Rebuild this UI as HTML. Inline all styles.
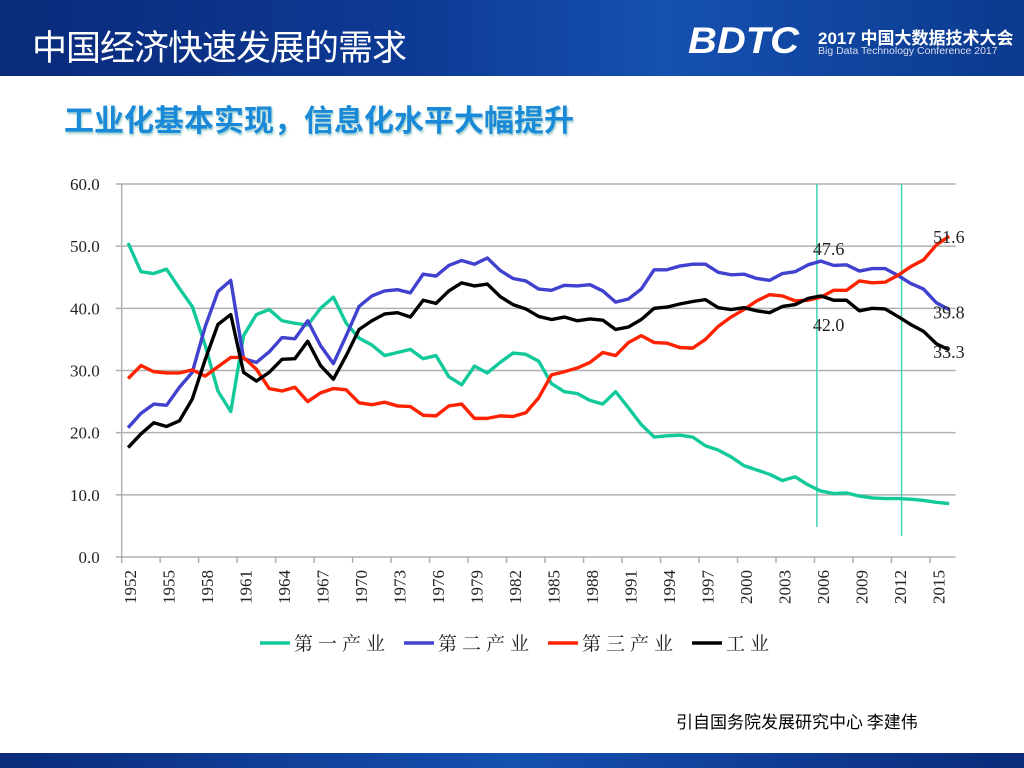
<!DOCTYPE html>
<html><head><meta charset="utf-8">
<style>
body{margin:0;width:1024px;height:768px;overflow:hidden;background:#fff;font-family:"Liberation Sans","Noto Sans CJK SC",sans-serif;position:relative}
#hdr{position:absolute;left:0;top:0;width:1024px;height:76px;background:linear-gradient(90deg,#0a2a7a 0%,#0d3a94 40%,#1550b0 65%,#0b3a8e 100%)}
#title{position:absolute;left:32px;top:20px;color:#fff;font-size:35px;font-family:"Noto Sans CJK SC",sans-serif;letter-spacing:-1px}
#logo{position:absolute;left:688px;top:20px;color:#fff;font-size:37px;font-weight:bold;font-style:italic;font-family:"Liberation Sans",sans-serif;transform:scaleX(1.08);transform-origin:left;white-space:nowrap}
#logo2{position:absolute;left:818px;top:24px;color:#fff;font-size:17px;font-weight:bold;font-family:"Liberation Sans","Noto Sans CJK SC",sans-serif;white-space:nowrap}
#logo3{position:absolute;left:818px;top:45px;color:#dde;font-size:10.5px;font-family:"Liberation Sans",sans-serif;white-space:nowrap}
#sub{position:absolute;left:64px;top:96px;color:#1a8ad8;font-size:30px;font-weight:bold;font-family:"Noto Sans CJK SC",sans-serif;text-shadow:1px 2px 2px #9cc}
#foot{position:absolute;left:676px;top:708px;font-size:17px;color:#000;font-family:"Noto Sans CJK SC",sans-serif}
#bot{position:absolute;left:0;top:753px;width:1024px;height:15px;background:linear-gradient(90deg,#0a2a7a,#1550b0,#0a2a7a)}
svg{position:absolute;left:0;top:0}
</style></head><body>
<div id="hdr"></div>
<div id="title">中国经济快速发展的需求</div>
<div id="logo">BDTC</div>
<div id="logo2">2017 中国大数据技术大会</div>
<div id="logo3">Big Data Technology Conference 2017</div>
<div id="sub">工业化基本实现，信息化水平大幅提升</div>
<svg id="chart" width="1024" height="768"></svg>
<div id="foot">引自国务院发展研究中心  李建伟</div>
<div id="bot"></div>
<script>
const startYear = 1952;
const primary = [50.5,45.9,45.6,46.3,43.2,40.3,34.1,26.7,23.4,35.6,39.0,39.8,38.0,37.6,37.3,40.0,41.8,37.6,35.2,34.1,32.4,32.9,33.4,31.9,32.4,29.0,27.7,30.7,29.6,31.3,32.8,32.6,31.5,27.9,26.6,26.3,25.2,24.6,26.6,24.0,21.3,19.3,19.5,19.6,19.3,17.9,17.2,16.1,14.7,14.0,13.3,12.3,12.9,11.6,10.6,10.2,10.3,9.8,9.5,9.4,9.4,9.3,9.1,8.8,8.6];
const secondary = [20.8,23.1,24.6,24.4,27.3,29.7,37.0,42.7,44.5,31.9,31.3,33.0,35.3,35.1,38.0,34.0,31.1,35.6,40.3,42.0,42.8,43.0,42.5,45.5,45.2,46.9,47.7,47.1,48.1,46.1,44.8,44.4,43.1,42.9,43.7,43.6,43.8,42.8,41.0,41.5,43.1,46.2,46.2,46.8,47.1,47.1,45.8,45.4,45.5,44.8,44.5,45.6,45.9,47.0,47.6,46.9,47.0,46.0,46.4,46.4,45.3,44.0,43.1,40.9,39.8];
const tertiary = [28.7,30.8,29.8,29.6,29.6,30.1,29.1,30.6,32.1,32.1,30.2,27.1,26.7,27.3,25.0,26.4,27.1,26.9,24.8,24.5,24.9,24.3,24.2,22.8,22.7,24.3,24.6,22.3,22.3,22.7,22.6,23.2,25.6,29.3,29.8,30.4,31.3,32.9,32.4,34.5,35.6,34.5,34.4,33.7,33.6,35.0,37.1,38.6,39.8,41.2,42.2,42.0,41.2,41.3,41.8,42.9,42.9,44.4,44.1,44.2,45.3,46.7,47.8,50.2,51.6];
const industry = [17.6,19.8,21.6,21.0,21.9,25.4,31.7,37.4,39.0,29.7,28.3,29.7,31.8,31.9,34.7,30.8,28.6,32.4,36.6,38.0,39.1,39.3,38.6,41.3,40.8,42.8,44.1,43.6,43.9,41.9,40.6,39.9,38.7,38.2,38.6,38.0,38.3,38.1,36.6,37.0,38.2,40.0,40.2,40.7,41.1,41.4,40.1,39.8,40.1,39.6,39.3,40.3,40.6,41.6,42.0,41.3,41.3,39.6,40.0,39.9,38.7,37.4,36.3,34.3,33.3];
const yTicks = [0,10,20,30,40,50,60];
const seriesNames = ["第一产业","第二产业","第三产业","工业"];
const seriesColors = ["#12c99b","#4141d0","#ff2200","#000000"];
const markerYears = [2006, 2012.6];
const callouts = [["47.6",2006,47.6,-8,-6],["42.0",2006,42.0,-8,35],["51.6",2016,51.6,-16,7],["39.8",2016,39.8,-16,9],["33.3",2016,33.3,-16,8]];

const NS="http://www.w3.org/2000/svg";
const svg=document.getElementById('chart');
const L=121.7,R=955.6,T=184,B=557,N=primary.length,step=(R-L)/N;
const x=i=>L+(i+0.5)*step;
const xy=yr=>x(yr-startYear);
const y=v=>B-(v/60)*(B-T);
function mk(t,a){const e=document.createElementNS(NS,t);for(const k in a)e.setAttribute(k,a[k]);svg.appendChild(e);return e;}
yTicks.forEach(v=>{
  const g=mk('line',{x1:L-6,x2:R,y1:y(v),y2:y(v),stroke:'#b0b0b0','stroke-width':1.5});
  
  
  const t=mk('text',{x:L-22,y:y(v)+6,'text-anchor':'end','font-size':17,'font-family':'Liberation Serif, serif',fill:'#222'});
  t.textContent=v.toFixed(1);
  
  
});
const ax=mk('line',{x1:L,x2:L,y1:T,y2:B,stroke:'#b0b0b0','stroke-width':1.5});


for(let i=0;i<N;i+=3){
  const tk=mk('line',{x1:L+i*step,x2:L+i*step,y1:B,y2:B+6,stroke:'#b0b0b0','stroke-width':1.5});
  
  
  const cx=x(i)+8;
  const t=mk('text',{x:cx,y:570,transform:`rotate(-90 ${cx} 570)`,'text-anchor':'end','font-size':17,'font-family':'Liberation Serif, serif',fill:'#222'});
  t.textContent=startYear+i;
  
  
}
markerYears.forEach((yr,k)=>{
  const m=mk('line',{x1:xy(yr)-4,x2:xy(yr)-4,y1:T,y2:k?536:527,stroke:'#3cd6b0','stroke-width':1.5});
  
  
});
[primary,secondary,tertiary,industry].forEach((s,k)=>{
  const p=mk('polyline',{points:s.map((v,i)=>x(i)+','+y(v)).join(' '),fill:'none',stroke:seriesColors[k],'stroke-width':3.4,'stroke-linejoin':'round'});
  
  
});
callouts.forEach(c=>{
  const t=mk('text',{x:xy(c[1])+c[3],y:y(c[2])+c[4],'font-size':18,'font-family':'Liberation Serif, serif',fill:'#222'});
  t.textContent=c[0];
  
  
});
const lx=[260,404,548,692];
seriesNames.forEach((n,k)=>{
  const l=mk('line',{x1:lx[k],x2:lx[k]+30,y1:643,y2:643,stroke:seriesColors[k],'stroke-width':3.5});
  
  
  const t=mk('text',{x:lx[k]+34,y:650,'font-size':19,'letter-spacing':'5','font-family':'Noto Serif CJK SC, serif',fill:'#222'});
  t.textContent=n;
  
  
});
</script>
</body></html>
